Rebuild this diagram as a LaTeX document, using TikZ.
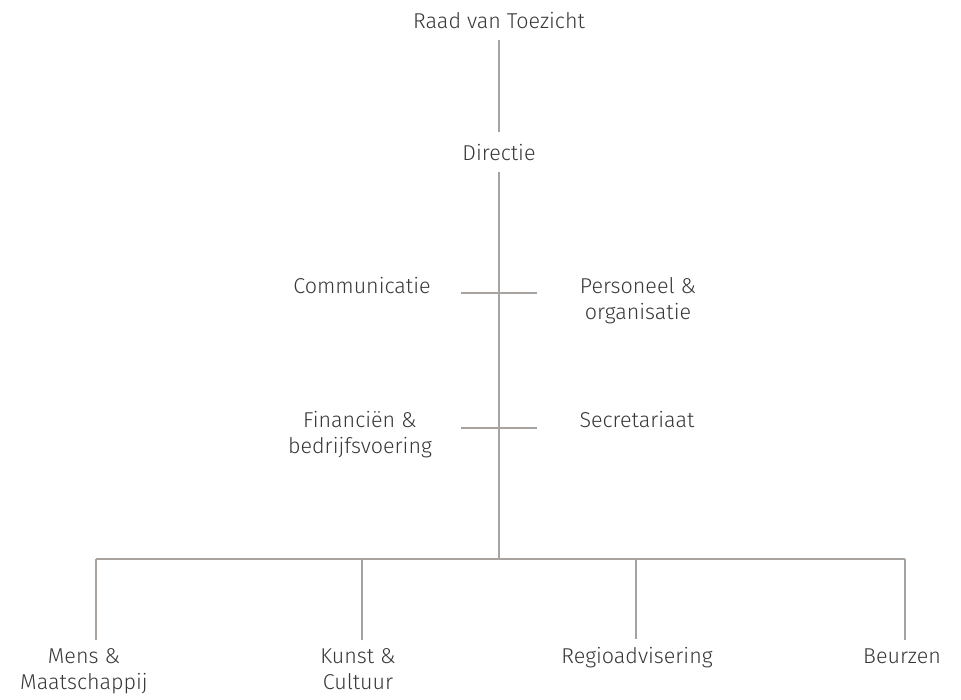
\documentclass[tikz,border=0pt]{standalone}
\usepackage{fontspec}
\setmainfont{Fira Sans Light}
\definecolor{lijngrijs}{HTML}{A8A39E}
\definecolor{tekstgrijs}{HTML}{383838}

\begin{document}
\begin{tikzpicture}[x=1pt,y=-1pt,
        lbl/.style={anchor=base,inner sep=0pt,align=center,text=tekstgrijs,
            font=\fontsize{21.5}{26}\selectfont},
        lijn/.style={draw=lijngrijs,line width=1.3pt}]
        \useasboundingbox (0,0) rectangle (961,699);

        % top
        \node[lbl] (rvt) at (499,28) {Raad van Toezicht};
        \node[lbl] (dir) at (499,160) {Directie};

        % staf (base = laatste regel)
        \node[lbl] (comm) at (362,293) {Communicatie};
        \node[lbl] (po) at (638,319) {Personeel \&\\organisatie};
        \node[lbl] (fin) at (360,453) {Financiën \&\\bedrijfsvoering};
        \node[lbl] (secr) at (637,427) {Secretariaat};

        % afdelingen
        \node[lbl] (mens) at (84,689) {Mens \&\\Maatschappij};
        \node[lbl] (kunst) at (358,689) {Kunst \&\\Cultuur};
        \node[lbl] (regio) at (637,663) {Regioadvisering};
        \node[lbl] (beurs) at (902,663) {Beurzen};

        \coordinate (t1) at (499,293);
        \coordinate (t2) at (499,428);
        \coordinate (bus) at (499,559);

        \draw[lijn,shorten <=12pt,shorten >=12pt] (rvt.south) -- (dir.north);
        \draw[lijn,shorten <=12pt] (dir.south) -- (bus);
        \draw[lijn] ([xshift=-38pt]t1) -- ([xshift=38pt]t1);
        \draw[lijn] ([xshift=-38pt]t2) -- ([xshift=38pt]t2);

        \foreach \x/\n in {96/mens,362/kunst,636/regio,905/beurs}
            \coordinate (b\n) at (\x,559);
        \draw[lijn] (bmens) -- (bbeurs);
        \foreach \n in {mens,kunst,regio,beurs}
            \draw[lijn,shorten >=8pt] (b\n) -- (b\n |- \n.north);
    \end{tikzpicture}
\end{document}
